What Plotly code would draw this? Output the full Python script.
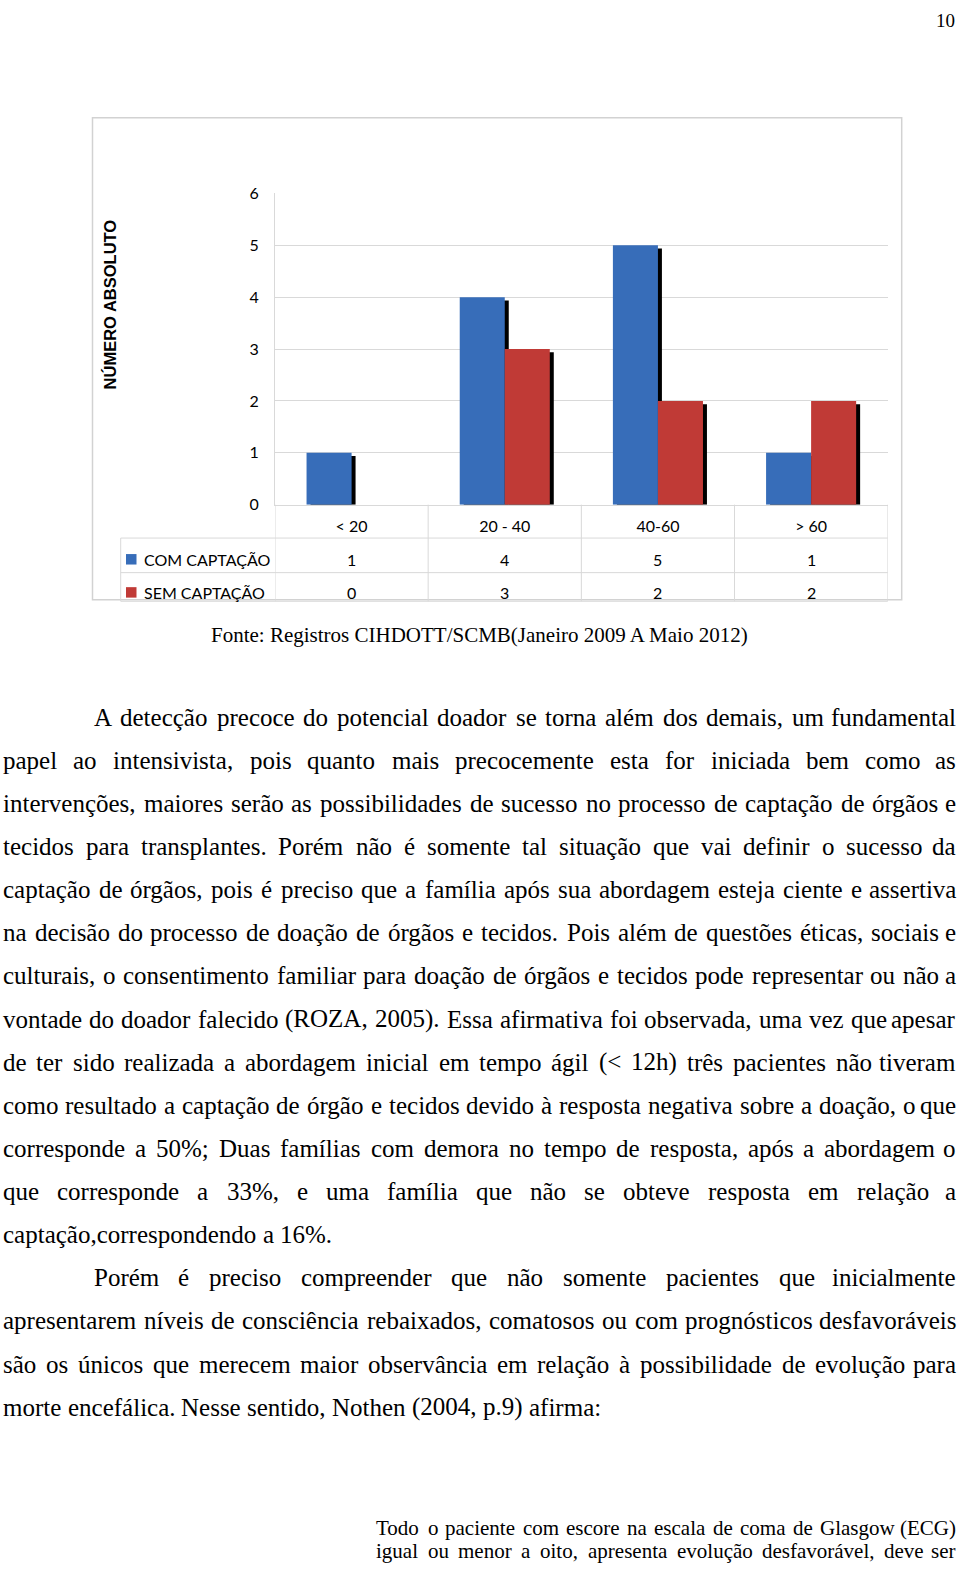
import unicodedata
import plotly.graph_objects as go

# ---------------- data ----------------
categories = ["< 20", "20 - 40", "40-60", "> 60"]
com_captacao = [1, 4, 5, 1]
sem_captacao = [0, 3, 2, 2]
series_names = ["COM CAPTAÇÃO", "SEM CAPTAÇÃO"]
y_ticks = [0, 1, 2, 3, 4, 5, 6]
y_title = "NÚMERO ABSOLUTO"
caption = "Fonte: Registros CIHDOTT/SCMB(Janeiro 2009 A Maio 2012)"
page_number = "10"

paragraph_1 = [
    "A detecção precoce do potencial doador se torna além dos demais, um fundamental",
    "papel ao intensivista, pois quanto mais precocemente esta for iniciada bem como as",
    "intervenções, maiores serão as possibilidades de sucesso no processo de captação de órgãos e",
    "tecidos para transplantes. Porém não é somente tal situação que vai definir o sucesso da",
    "captação de órgãos, pois é preciso que a família após sua abordagem esteja ciente e assertiva",
    "na decisão do processo de doação de órgãos e tecidos. Pois além de questões éticas, sociais e",
    "culturais, o consentimento familiar para doação de órgãos e tecidos pode representar ou não a",
    "vontade do doador falecido (ROZA, 2005). Essa afirmativa foi observada, uma vez que apesar",
    "de ter sido realizada a abordagem inicial em tempo ágil (< 12h) três pacientes não tiveram",
    "como resultado a captação de órgão e tecidos devido à resposta negativa sobre a doação, o que",
    "corresponde a 50%; Duas famílias com demora no tempo de resposta, após a abordagem o",
    "que corresponde a 33%, e uma família que não se obteve resposta em relação a",
    "captação,correspondendo a 16%.",
]
paragraph_2 = [
    "Porém é preciso compreender que não somente pacientes que inicialmente",
    "apresentarem níveis de consciência rebaixados, comatosos ou com prognósticos desfavoráveis",
    "são os únicos que merecem maior observância em relação à possibilidade de evolução para",
    "morte encefálica. Nesse sentido, Nothen (2004, p.9) afirma:",
]
quote_lines = [
    "Todo o paciente com escore na escala de coma de Glasgow (ECG)",
    "igual ou menor a oito, apresenta evolução desfavorável, deve ser",
]

# ---------------- page geometry ----------------
PW, PH = 960, 1576
def px(x):
    return x / PW
def py(y):
    return 1 - y / PH

BLUE = "#376db9"
RED = "#c03a36"
GRID = "#d9d9d9"
SANS = "Lato, 'Open Sans', sans-serif"
SERIF = "'Liberation Serif', 'Times New Roman', serif"

BW = 0.294      # bar width (category units)
SDX = 0.026     # shadow x shift
SDY = 0.063     # shadow y drop

fig = go.Figure()

series = [(series_names[0], com_captacao, BLUE, -BW),
          (series_names[1], sem_captacao, RED, 0.0)]
for name, vals, col, off in series:
    shadow = [max(v - SDY, 0) for v in vals]
    fig.add_trace(go.Bar(x=categories, y=shadow, offset=off + SDX, width=BW,
                         marker=dict(color="#000000", line=dict(width=0)),
                         hoverinfo="skip", showlegend=False))
    fig.add_trace(go.Bar(x=categories, y=vals, offset=off, width=BW, name=name,
                         marker=dict(color=col, line=dict(width=0)),
                         showlegend=False))

fig.update_layout(
    width=PW, height=PH, autosize=False,
    margin=dict(l=0, r=0, t=0, b=0),
    paper_bgcolor="white", plot_bgcolor="white",
    barmode="overlay",
    xaxis=dict(domain=[px(275), px(887.7)], range=[-0.5, 3.5],
               showgrid=False, showline=True, linecolor=GRID, linewidth=1,
               ticks="outside", ticklen=7, tickcolor="rgba(0,0,0,0)",
               tickfont=dict(family=SANS, size=16, color="#000"),
               fixedrange=True),
    yaxis=dict(domain=[py(500.7), py(185.7)], range=[0, 6],
               tickvals=y_ticks, ticktext=[str(t) for t in y_ticks],
               showgrid=True, gridcolor=GRID, gridwidth=1,
               showline=True, linecolor=GRID, linewidth=1, zeroline=False,
               ticks="outside", ticklen=12, tickcolor="rgba(0,0,0,0)",
               tickfont=dict(family=SANS, size=16, color="#000"),
               fixedrange=True),
)

shapes = []
# outer chart frame
shapes.append(dict(type="rect", xref="paper", yref="paper",
                   x0=px(92.5), x1=px(901.7), y0=py(597), y1=py(109),
                   line=dict(color="#d2d2d2", width=1.5)))
# data table horizontal lines
for yy in [534.5, 569.5, 598.5]:
    shapes.append(dict(type="line", xref="paper", yref="paper",
                       x0=px(120.7), x1=px(887.7), y0=py(yy), y1=py(yy),
                       line=dict(color=GRID, width=1)))
shapes.append(dict(type="line", xref="paper", yref="paper",
                   x0=px(120.7), x1=px(120.7), y0=py(534.5), y1=py(598.5),
                   line=dict(color=GRID, width=1)))
# table column separators (category boundaries)
for k in range(len(categories) + 1):
    shapes.append(dict(type="line", xref="x", yref="paper",
                       x0=k - 0.5, x1=k - 0.5, y0=py(500.7), y1=py(598.5),
                       line=dict(color=GRID, width=1)))
# legend keys
row_y = [556.0, 589.5]
for (name, vals, col, off), ry in zip(series, row_y):
    shapes.append(dict(type="rect", xref="paper", yref="paper",
                       x0=px(126), x1=px(136.5), y0=py(ry + 5.3), y1=py(ry - 5.3),
                       fillcolor=col, line=dict(width=0)))
fig.update_layout(shapes=shapes)

# table text
for (name, vals, col, off), ry in zip(series, row_y):
    fig.add_annotation(x=px(141.5), y=py(ry), xref="paper", yref="paper",
                       text=name, showarrow=False, xanchor="left", yanchor="middle",
                       font=dict(family=SANS, size=16, color="#000"))
    for i, v in enumerate(vals):
        fig.add_annotation(x=i, y=py(ry), xref="x", yref="paper",
                           text=str(v), showarrow=False, xanchor="center",
                           yanchor="middle",
                           font=dict(family=SANS, size=16, color="#000"))

# y axis title
fig.add_annotation(x=px(110), y=py(298), xref="paper", yref="paper",
                   text="<b>" + y_title + "</b>", textangle=-90, showarrow=False,
                   xanchor="center", yanchor="middle",
                   font=dict(family="'Liberation Sans', Arial, sans-serif",
                             size=16.5, color="#000"))

# caption and page number
fig.add_annotation(x=px(479.5), y=py(633), xref="paper", yref="paper",
                   text=caption, showarrow=False, xanchor="center", yanchor="middle",
                   font=dict(family=SERIF, size=21, color="#000"))
fig.add_annotation(x=px(957), y=py(11), xref="paper", yref="paper",
                   text=page_number, showarrow=False, xanchor="right", yanchor="middle",
                   font=dict(family=SERIF, size=19, color="#000"))

# ---------------- justified body text ----------------
TIMES = {
    " ": 250, "!": 333, "(": 333, ")": 333, ",": 250, "-": 333, ".": 250, "/": 278,
    ":": 278, ";": 278, "<": 564, ">": 564, "%": 833, "?": 444,
    "0": 500, "1": 500, "2": 500, "3": 500, "4": 500, "5": 500, "6": 500,
    "7": 500, "8": 500, "9": 500,
    "A": 722, "B": 667, "C": 667, "D": 722, "E": 611, "F": 556, "G": 722, "H": 722,
    "I": 333, "J": 389, "K": 722, "L": 611, "M": 889, "N": 722, "O": 722, "P": 556,
    "Q": 722, "R": 667, "S": 556, "T": 611, "U": 722, "V": 722, "W": 944, "X": 722,
    "Y": 722, "Z": 611,
    "a": 444, "b": 500, "c": 444, "d": 500, "e": 444, "f": 333, "g": 500, "h": 500,
    "i": 278, "j": 278, "k": 500, "l": 278, "m": 778, "n": 500, "o": 500, "p": 500,
    "q": 500, "r": 333, "s": 389, "t": 278, "u": 500, "v": 500, "w": 722, "x": 500,
    "y": 500, "z": 444,
}

def text_width(s, size):
    total = 0
    for ch in s:
        base = unicodedata.normalize("NFD", ch)[0]
        total += TIMES.get(base, 500)
    return total * size / 1000.0

def add_line(line, x_left, x_right, y, size, justify):
    words = line.split(" ")
    widths = [text_width(w, size) for w in words]
    if justify and len(words) > 1:
        gap = (x_right - x_left - sum(widths)) / (len(words) - 1)
    else:
        gap = text_width(" ", size)
    x = x_left
    n = len(words)
    for j, (w, wd) in enumerate(zip(words, widths)):
        last_just = justify and j == n - 1 and n > 1
        fig.add_annotation(x=px(x_right if last_just else x), y=py(y),
                           xref="paper", yref="paper", text=w, showarrow=False,
                           xanchor="right" if last_just else "left",
                           yanchor="middle", borderpad=0,
                           font=dict(family=SERIF, size=size, color="#000"))
        x += wd + gap

BODY = 25
LEFT, RIGHT, INDENT = 2.0, 957.0, 92.5
Y0, LH = 715.7, 43.66
row = 0
for para in (paragraph_1, paragraph_2):
    for i, line in enumerate(para):
        xl = INDENT if i == 0 else LEFT
        justify = i < len(para) - 1
        add_line(line, xl, RIGHT, Y0 + LH * row, BODY, justify)
        row += 1

for i, line in enumerate(quote_lines):
    add_line(line, 375.0, RIGHT, 1536.5 + 23.4 * i, 21, True)

post_js = (
    "document.documentElement.style.margin='0';"
    "document.documentElement.style.overflow='hidden';"
    "document.body.style.margin='0';document.body.style.padding='0';"
    "document.body.style.overflow='hidden';"
    "var gd=document.getElementById('{plot_id}');"
    "gd.style.position='absolute';gd.style.left='0px';gd.style.top='0px';"
)
fig.write_html("out.html", post_script=post_js,
               config={"displayModeBar": False, "staticPlot": True})
